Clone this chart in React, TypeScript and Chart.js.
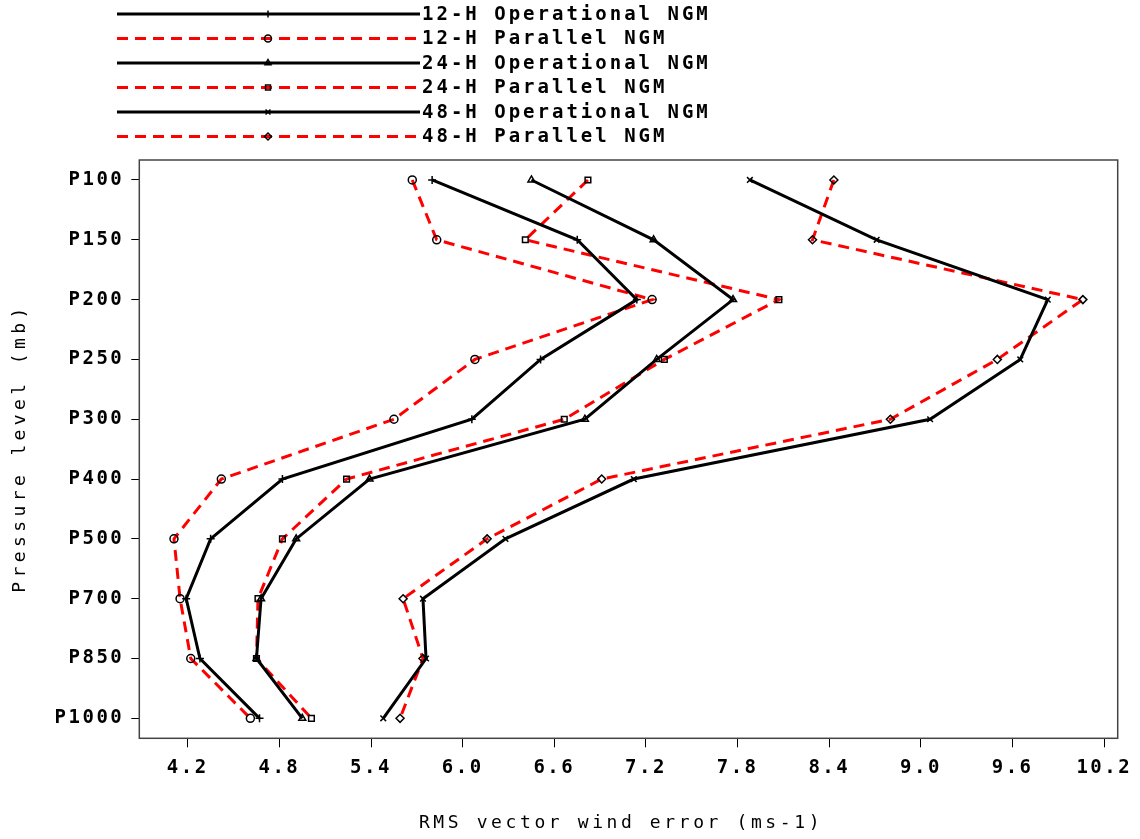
import React, { useEffect, useRef } from 'react';
import { Chart, registerables } from 'chart.js';
import { drawPoint } from 'chart.js/helpers';

Chart.register(...registerables);

const levels = ['P100', 'P150', 'P200', 'P250', 'P300', 'P400', 'P500', 'P700', 'P850', 'P1000'];
const op12 = [5.8, 6.75, 7.14, 6.51, 6.06, 4.82, 4.35, 4.19, 4.28, 4.67];
const par12 = [5.67, 5.83, 7.24, 6.08, 5.55, 4.42, 4.11, 4.15, 4.22, 4.61];
const op24 = [6.45, 7.25, 7.77, 7.27, 6.8, 5.39, 4.91, 4.68, 4.65, 4.95];
const par24 = [6.82, 6.41, 8.07, 7.32, 6.665, 5.24, 4.82, 4.66, 4.65, 5.01];
const op48 = [7.88, 8.71, 9.83, 9.65, 9.06, 7.12, 6.28, 5.74, 5.76, 5.48];
const par48 = [8.43, 8.29, 10.06, 9.5, 8.8, 6.91, 6.16, 5.61, 5.74, 5.59];
const xTicks = [4.2, 4.8, 5.4, 6.0, 6.6, 7.2, 7.8, 8.4, 9.0, 9.6, 10.2];
const seriesNames = [
  '12-H Operational NGM',
  '12-H Parallel NGM',
  '24-H Operational NGM',
  '24-H Parallel NGM',
  '48-H Operational NGM',
  '48-H Parallel NGM',
];
const seriesValues = [op12, par12, op24, par24, op48, par48];
const seriesStyles = ['cross', 'circle', 'triangle', 'rect', 'crossRot', 'rectRot'];
const xTitle = 'RMS vector wind error (ms-1)';
const yTitle = 'Pressure level (mb)';

const FONT = '"DejaVu Sans Mono", monospace';
const RED = '#ff0000';

const decor = {
  id: 'decor',
  beforeDraw(chart: any) {
    chart.ctx.letterSpacing = '2.5px';
  },
  afterDraw(chart: any) {
    const ctx = chart.ctx as CanvasRenderingContext2D & { letterSpacing: string };
    const { left, top, right, bottom } = chart.chartArea;
    ctx.save();
    ctx.strokeStyle = '#444';
    ctx.lineWidth = 1.5;
    ctx.strokeRect(left, top, right - left, bottom - top);
    ctx.restore();

    chart.data.datasets.forEach((ds: any, i: number) => {
      const y = 14 + i * 24.5;
      ctx.save();
      ctx.strokeStyle = ds.borderColor;
      ctx.lineWidth = ds.borderWidth;
      ctx.setLineDash(ds.borderDash || []);
      ctx.beginPath();
      ctx.moveTo(117, y);
      ctx.lineTo(420, y);
      ctx.stroke();
      ctx.setLineDash([]);
      ctx.strokeStyle = '#000';
      ctx.fillStyle = 'rgba(0,0,0,0)';
      ctx.lineWidth = 1.5;
      drawPoint(ctx, { pointStyle: ds.pointStyle, radius: 3.5, rotation: 0, borderWidth: 1.5 } as any, 268, y);
      (ctx as any).letterSpacing = '3px';
      ctx.font = `bold 19px ${FONT}`;
      ctx.fillStyle = '#000';
      ctx.textBaseline = 'middle';
      ctx.textAlign = 'left';
      ctx.fillText(ds.label, 422, y + 1);
      ctx.restore();
    });

    ctx.save();
    (ctx as any).letterSpacing = '3.6px';
    ctx.font = `18px ${FONT}`;
    ctx.fillStyle = '#000';
    ctx.textAlign = 'center';
    ctx.textBaseline = 'middle';
    ctx.fillText(xTitle, 621, 823);
    ctx.restore();

    ctx.save();
    (ctx as any).letterSpacing = '4.4px';
    ctx.font = `18px ${FONT}`;
    ctx.fillStyle = '#000';
    ctx.textAlign = 'center';
    ctx.textBaseline = 'middle';
    ctx.translate(20, 450);
    ctx.rotate(-Math.PI / 2);
    ctx.fillText(yTitle, 2, 0);
    ctx.restore();
  },
};

export default function App() {
  const ref = useRef<HTMLCanvasElement>(null);
  useEffect(() => {
    if (!ref.current) return;
    const datasets = seriesNames.map((name, s) => {
      const isPar = s % 2 === 1;
      return {
        label: name,
        data: levels.map((_, i) => ({ x: seriesValues[s][i], y: i })),
        borderColor: isPar ? RED : '#000',
        borderWidth: 3,
        borderDash: isPar ? [11, 7] : [],
        pointStyle: seriesStyles[s],
        pointRadius: 4,
        pointBorderWidth: 1.5,
        pointBorderColor: '#000',
        pointBackgroundColor: 'rgba(0,0,0,0)',
        tension: 0,
        fill: false,
      };
    });
    const chart = new Chart(ref.current, {
      type: 'line',
      data: { datasets },
      plugins: [decor],
      options: {
        animation: false,
        responsive: false,
        devicePixelRatio: 1,
        indexAxis: 'y',
        layout: { padding: { top: 160, right: 22.3, left: 0, bottom: 0 } },
        plugins: { legend: { display: false }, tooltip: { enabled: false }, title: { display: false } },
        scales: {
          x: {
            type: 'linear',
            position: 'bottom',
            min: 3.883,
            max: 10.288,
            afterBuildTicks: (scale: any) => {
              scale.ticks = xTicks.map((v) => ({ value: v }));
            },
            afterFit: (scale: any) => {
              scale.height = 100.7;
            },
            ticks: {
              autoSkip: false,
              maxRotation: 0,
              padding: 9,
              color: '#000',
              font: { family: FONT, size: 19, weight: 'bold' },
              callback: (v: any) => Number(v).toFixed(1),
            },
            grid: { drawOnChartArea: false, drawTicks: true, tickLength: 9, color: '#000', lineWidth: 1 },
            border: { display: false },
          },
          y: {
            type: 'linear',
            position: 'left',
            reverse: true,
            min: -0.334,
            max: 9.334,
            afterBuildTicks: (scale: any) => {
              scale.ticks = levels.map((_, i) => ({ value: i }));
            },
            afterFit: (scale: any) => {
              scale.width = 139.3;
            },
            ticks: {
              autoSkip: false,
              padding: 7,
              color: '#000',
              font: { family: FONT, size: 19, weight: 'bold' },
              callback: (v: any) => levels[Math.round(Number(v))],
            },
            grid: { drawOnChartArea: false, drawTicks: true, tickLength: 8, color: '#000', lineWidth: 1 },
            border: { display: false },
          },
        },
      } as any,
    });
    return () => chart.destroy();
  }, []);
  return (
    <div style={{ position: 'fixed', left: 0, top: 0, width: 1140, height: 839, background: '#fff' }}>
      <canvas ref={ref} width={1140} height={839} style={{ width: 1140, height: 839, display: 'block' }} />
    </div>
  );
}
